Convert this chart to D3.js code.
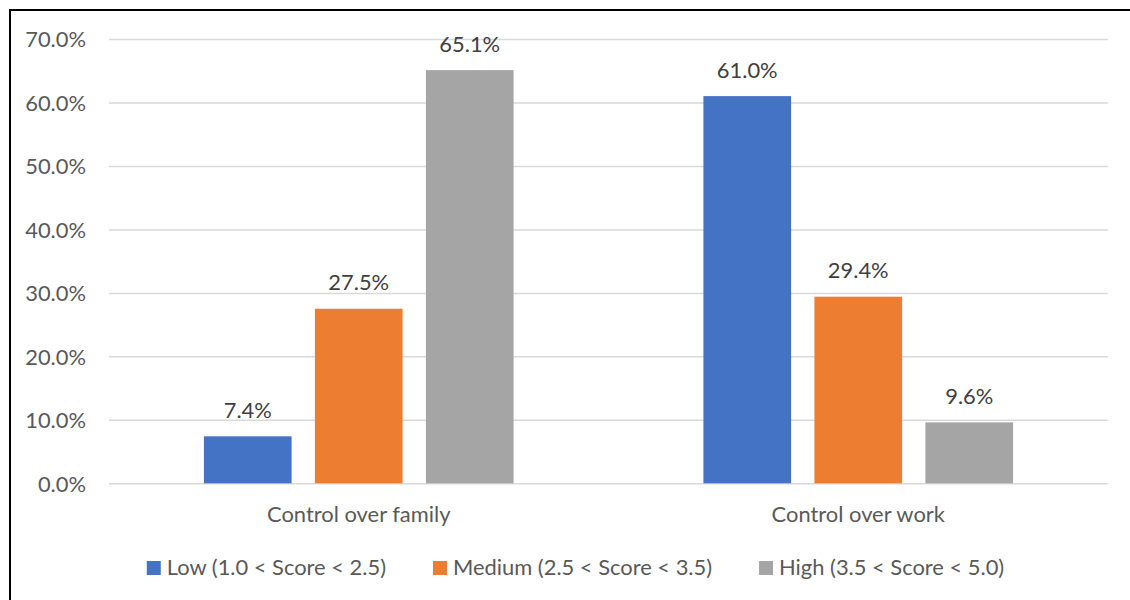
<!DOCTYPE html>
<html>
<head>
<meta charset="utf-8">
<script src="https://cdn.jsdelivr.net/npm/d3@7"></script>
<style>
  html, body { margin: 0; padding: 0; background: #fff; }
  svg { display: block; }
  text { font-family: Lato, "Open Sans", sans-serif; }
</style>
</head>
<body>
<svg id="chart" width="1130" height="600"></svg>
<script>
const categories = ["Control over family", "Control over work"];
const seriesNames = ["Low (1.0 < Score < 2.5)", "Medium (2.5 < Score < 3.5)", "High (3.5 < Score < 5.0)"];
const lowValues = [7.4, 61.0];
const mediumValues = [27.5, 29.4];
const highValues = [65.1, 9.6];
const yTicks = [0, 10, 20, 30, 40, 50, 60, 70];
const colors = ["#4472C4", "#ED7D31", "#A5A5A5"];

const seriesValues = [lowValues, mediumValues, highValues];
const data = categories.map((c, i) => ({
  category: c,
  values: seriesNames.map((s, j) => ({ series: s, value: seriesValues[j][i] }))
}));

const svg = d3.select("#chart");
const fs = 21.9;

// border
svg.append("rect").attr("x", 10).attr("y", 10).attr("width", 1130).attr("height", 600)
  .attr("fill", "none").attr("stroke", "#000").attr("stroke-width", 2);

const plotLeft = 109, plotRight = 1108, plotTop = 39, plotBottom = 483.3;
const y = d3.scaleLinear().domain([0, 70]).range([plotBottom, plotTop]);
const x0 = d3.scaleBand().domain(categories).range([plotLeft, plotRight]).padding(0);
const cw = x0.bandwidth();
const x1 = d3.scaleBand().domain(seriesNames).range([cw * 0.19, cw * 0.81]).paddingInner(0.21).paddingOuter(0);
const color = d3.scaleOrdinal().domain(seriesNames).range(colors);

// gridlines via axis
const yAxis = d3.axisLeft(y).tickValues(yTicks).tickSize(-(plotRight - plotLeft)).tickFormat(d => d3.format(".1f")(d) + "%");
const gAxis = svg.append("g").attr("transform", `translate(${plotLeft},0)`).call(yAxis);
gAxis.select(".domain").remove();
gAxis.selectAll(".tick line").attr("stroke", "#d9d9d9").attr("stroke-width", 1.5);
gAxis.selectAll(".tick text").attr("x", -23).attr("dy", "0.36em")
  .attr("fill", "#595959").style("font-size", fs + "px").style("font-family", "Lato");

// bars
const groups = svg.append("g").selectAll("g").data(data).join("g")
  .attr("transform", d => `translate(${x0(d.category)},0)`);
groups.selectAll("rect").data(d => d.values).join("rect")
  .attr("x", d => x1(d.series))
  .attr("y", d => y(d.value))
  .attr("width", x1.bandwidth())
  .attr("height", d => y(0) - y(d.value))
  .attr("fill", d => color(d.series));
groups.selectAll("text").data(d => d.values).join("text")
  .attr("x", d => x1(d.series) + x1.bandwidth() / 2)
  .attr("y", d => y(d.value) - 18.5)
  .attr("text-anchor", "middle")
  .attr("fill", "#404040")
  .style("font-size", fs + "px")
  .text(d => d.value.toFixed(1) + "%");

// category labels
svg.append("g").selectAll("text").data(categories).join("text")
  .attr("x", d => x0(d) + cw / 2)
  .attr("y", 522)
  .attr("text-anchor", "middle")
  .attr("fill", "#595959")
  .style("font-size", fs + "px")
  .text(d => d);

// legend
const legend = svg.append("g");
const items = legend.selectAll("g").data(seriesNames).join("g");
items.append("rect").attr("x", 0).attr("y", 561).attr("width", 14).attr("height", 14)
  .attr("fill", d => color(d));
items.append("text").attr("x", 20).attr("y", 575)
  .attr("fill", "#595959").style("font-size", fs + "px").text(d => d);
let xpos = 0;
const offsets = [];
items.each(function () {
  const w = d3.select(this).select("text").node().getComputedTextLength();
  offsets.push(xpos);
  xpos += 20 + w + 47;
});
const total = xpos - 47;
const startX = 575.5 - total / 2;
items.attr("transform", (d, i) => `translate(${startX + offsets[i]},0)`);
</script>
</body>
</html>
